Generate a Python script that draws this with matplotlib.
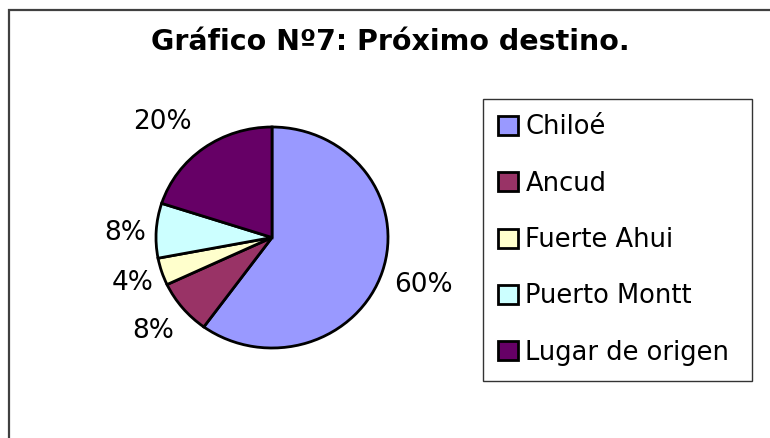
import matplotlib
matplotlib.use("Agg")
import matplotlib.pyplot as plt
from matplotlib.patches import Rectangle

# Data
destinos = ["Chiloé", "Ancud", "Fuerte Ahui", "Puerto Montt", "Lugar de origen"]
porcentajes = [60, 8, 4, 8, 20]
colores = ["#9999FF", "#993366", "#FFFFCC", "#CCFFFF", "#660066"]

plt.rcParams['font.family'] = ['DejaVu Sans']

fig = plt.figure(figsize=(7.7, 4.38), dpi=100)

# Outer chart border (only top/left visible in the picture)
fig.add_artist(Rectangle((9 / 770, -0.1), 1.2, 1 - 10 / 438 + 0.1,
                         transform=fig.transFigure, fill=False,
                         edgecolor="#404040", linewidth=1.6))

# Pie axes (slightly stretched horizontally, like the original)
ax = fig.add_axes([0.1122, 0.0541, 0.4821, 0.8073])
wedges, texts, autotexts = ax.pie(
    porcentajes, colors=colores, startangle=90, counterclock=False,
    autopct='%1.0f%%', pctdistance=1.33,
    wedgeprops=dict(edgecolor='black', linewidth=2),
    textprops=dict(fontsize=19, color='black'))
ax.set_aspect('auto')
ax.set_xlim(-1.6, 1.6)
ax.set_ylim(-1.6, 1.6)

# small nudges of the percentage labels (data units), Excel style placement
nudges = [(0.04, -0.02), (0.0, 0.0), (0.06, 0.0), (0.06, -0.045), (-0.16, -0.03)]
for t, (dx, dy) in zip(autotexts, nudges):
    x, y = t.get_position()
    t.set_position((x + dx, y + dy))

# Title
fig.text(390 / 770, 1 - 42 / 438, "Gráfico Nº7: Próximo destino.",
         ha='center', va='center', fontsize=20.5, fontweight='bold')

# Legend
leg = fig.legend(wedges, destinos, loc='upper left',
                 bbox_to_anchor=(483 / 770, 1 - 379 / 438, 269 / 770, 280 / 438),
                 mode='expand', borderaxespad=0, fontsize=18.5,
                 frameon=True, fancybox=False, edgecolor='black',
                 handlelength=0.75, handleheight=0.75, handletextpad=0.3,
                 labelspacing=1.18, borderpad=0.6)
leg.get_frame().set_linewidth(1.0)

fig.savefig("out.png", dpi=100)
